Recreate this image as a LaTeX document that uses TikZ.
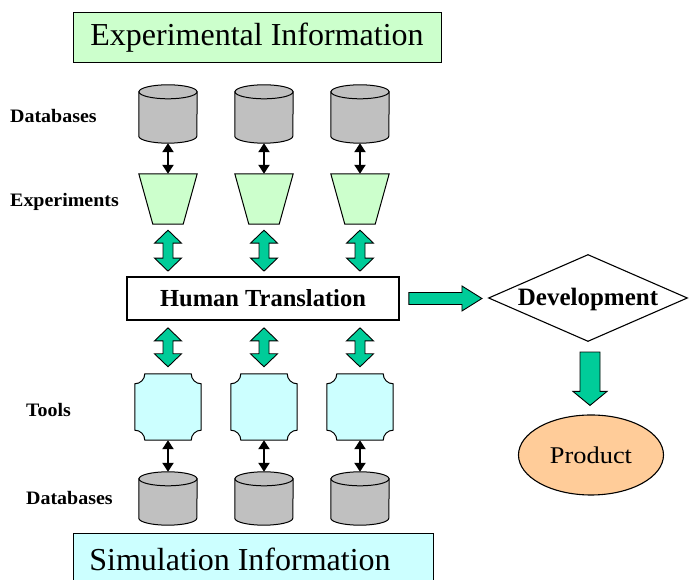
\documentclass[tikz,border=0pt]{standalone}
\usepackage{fontspec}
\setmainfont{Liberation Serif}
\newfontfamily\lblfamily[FakeStretch=1.05]{Liberation Serif}
\newfontfamily\prodfamily[FakeStretch=1.1]{Liberation Serif}
\usetikzlibrary{shapes.geometric,arrows.meta,calc}
\definecolor{cylgray}{RGB}{192,192,192}
\definecolor{expgreen}{RGB}{204,255,204}
\definecolor{simcyan}{RGB}{204,255,255}
\definecolor{arrowgreen}{RGB}{0,204,153}
\definecolor{prodorange}{RGB}{255,204,153}
\begin{document}
\begin{tikzpicture}[x=1pt,y=1pt,
  titlebox/.style={draw, line width=1pt, inner sep=0pt, font=\fontsize{32}{36}\selectfont},
  lbl/.style={anchor=base west, inner sep=0pt, font=\lblfamily\bfseries\fontsize{19}{22}\selectfont},
  holder/.style={draw=none, inner sep=0pt, minimum width=58pt},
  cylstyle/.style={draw, line width=1pt, fill=cylgray},
  trapstyle/.style={draw, line width=1pt, fill=expgreen},
  toolstyle/.style={draw, line width=1pt, fill=simcyan},
  blkarrow/.style={line width=2.4pt, {Triangle[length=9pt,width=11pt]}-{Triangle[length=9pt,width=11pt]}},
  fatv/.style 2 args={draw, line width=0.9pt, fill=arrowgreen, to path={let \p1=(\tikztostart), \p2=(\tikztotarget) in
    (\x1,\y1-#1) -- (\x1+13.5pt,\y1-#1-13pt) -- (\x1+5pt,\y1-#1-13pt) -- (\x1+5pt,\y2+#2+13pt) -- (\x1+13.5pt,\y2+#2+13pt) -- (\x1,\y2+#2) -- (\x1-13.5pt,\y2+#2+13pt) -- (\x1-5pt,\y2+#2+13pt) -- (\x1-5pt,\y1-#1-13pt) -- (\x1-13.5pt,\y1-#1-13pt) -- cycle}},
  fatr/.style={draw, line width=0.9pt, fill=arrowgreen, to path={let \p1=(\tikztostart), \p2=(\tikztotarget) in
    (\x1+9pt,\y1+6pt) -- (\x2-26pt,\y1+6pt) -- (\x2-26pt,\y1+12.5pt) -- (\x2-6pt,\y1) -- (\x2-26pt,\y1-12.5pt) -- (\x2-26pt,\y1-6pt) -- (\x1+9pt,\y1-6pt) -- cycle}},
  fatd/.style={draw, line width=0.9pt, fill=arrowgreen, to path={let \p1=(\tikztostart), \p2=(\tikztotarget) in
    (\x1-8pt,\y1-10pt) -- (\x1+12pt,\y1-10pt) -- (\x1+12pt,\y2+23pt) -- (\x1+19pt,\y2+23pt) -- (\x1+2pt,\y2+9pt) -- (\x1-15pt,\y2+23pt) -- (\x1-8pt,\y2+23pt) -- cycle}}
]
\useasboundingbox (0,0) rectangle (689,580);

% title boxes
\node[titlebox, fill=expgreen, minimum width=368pt, minimum height=50pt] (expinfo) at (257,542) {Experimental Information};
\node[titlebox, fill=simcyan, minimum width=360pt, minimum height=50pt] (siminfo) at (253,21) {\hspace*{-26pt}Simulation Information};

% row labels
\node[lbl] (lbldb1) at (10,457) {Databases};
\node[lbl] (lblexp) at (10,373) {Experiments};
\node[lbl] (lbltools) at (26,163) {Tools};
\node[lbl] (lbldb2) at (26,75) {Databases};

% holders
\foreach \i/\x in {1/168,2/264,3/360} {
  \node[holder, minimum height=58pt] (ct\i) at (\x,466) {};
  \node[holder, minimum height=50pt] (ex\i) at (\x,381) {};
  \node[holder, minimum width=66pt, minimum height=66pt] (tl\i) at (\x,173) {};
  \node[holder, minimum height=53pt] (cb\i) at (\x,81.5) {};
}

% cylinders
\foreach \c in {ct1,ct2,ct3,cb1,cb2,cb3} {
  \draw[cylstyle] ([yshift=-7pt]\c.north west) -- ([yshift=7pt]\c.south west)
     arc[start angle=180, end angle=360, x radius=29pt, y radius=7pt]
     -- ([yshift=-7pt]\c.north east) -- cycle;
  \draw[cylstyle] ([yshift=-7pt]\c.north) ellipse [x radius=29pt, y radius=7pt];
}

% experiments (trapezoids)
\foreach \t in {ex1,ex2,ex3} {
  \draw[trapstyle] (\t.north west) -- (\t.north east) -- ([xshift=-14pt]\t.south east) -- ([xshift=14pt]\t.south west) -- cycle;
}

% tools (plaques)
\foreach \t in {tl1,tl2,tl3} {
  \draw[toolstyle] ([yshift=-10pt]\t.north west) arc[start angle=-90, end angle=0, radius=10pt]
    -- ([xshift=-10pt]\t.north east) arc[start angle=180, end angle=270, radius=10pt]
    -- ([yshift=10pt]\t.south east) arc[start angle=90, end angle=180, radius=10pt]
    -- ([xshift=10pt]\t.south west) arc[start angle=0, end angle=90, radius=10pt]
    -- cycle;
}

% human translation, development, product
\node[draw, line width=1.8pt, fill=white, minimum width=272pt, minimum height=43pt, inner sep=0pt,
      font=\bfseries\fontsize{24.5}{28}\selectfont] (ht) at (263,281.5) {Human Translation};
\node[diamond, draw, line width=1.1pt, fill=white, aspect=2.3, inner sep=0pt, minimum width=199pt, minimum height=87pt,
      text height=16pt, text depth=1pt, font=\bfseries\fontsize{25}{28}\selectfont] (dev) at (588,282) {Development};
\node[ellipse, draw, line width=1.1pt, fill=prodorange, minimum width=145pt, minimum height=80pt, inner sep=0pt,
      font=\prodfamily\fontsize{24}{28}\selectfont] (prod) at (591,125) {Product};

% thin black connectors
\foreach \i in {1,2,3} {
  \draw[blkarrow] (ct\i.south) -- (ex\i.north);
  \draw[blkarrow] (tl\i.south) -- (cb\i.north);
}

% fat green connectors
\foreach \i in {1,2,3} {
  \draw[fatv={6pt}{5pt}] (ex\i.south) to (ex\i.south |- ht.north);
  \draw[fatv={7pt}{7pt}] (ht.south -| tl\i.north) to (tl\i.north);
}
\draw[fatr] (ht.east) to (dev.west);
\draw[fatd] (dev.south) to (prod.north);
\end{tikzpicture}
\end{document}
